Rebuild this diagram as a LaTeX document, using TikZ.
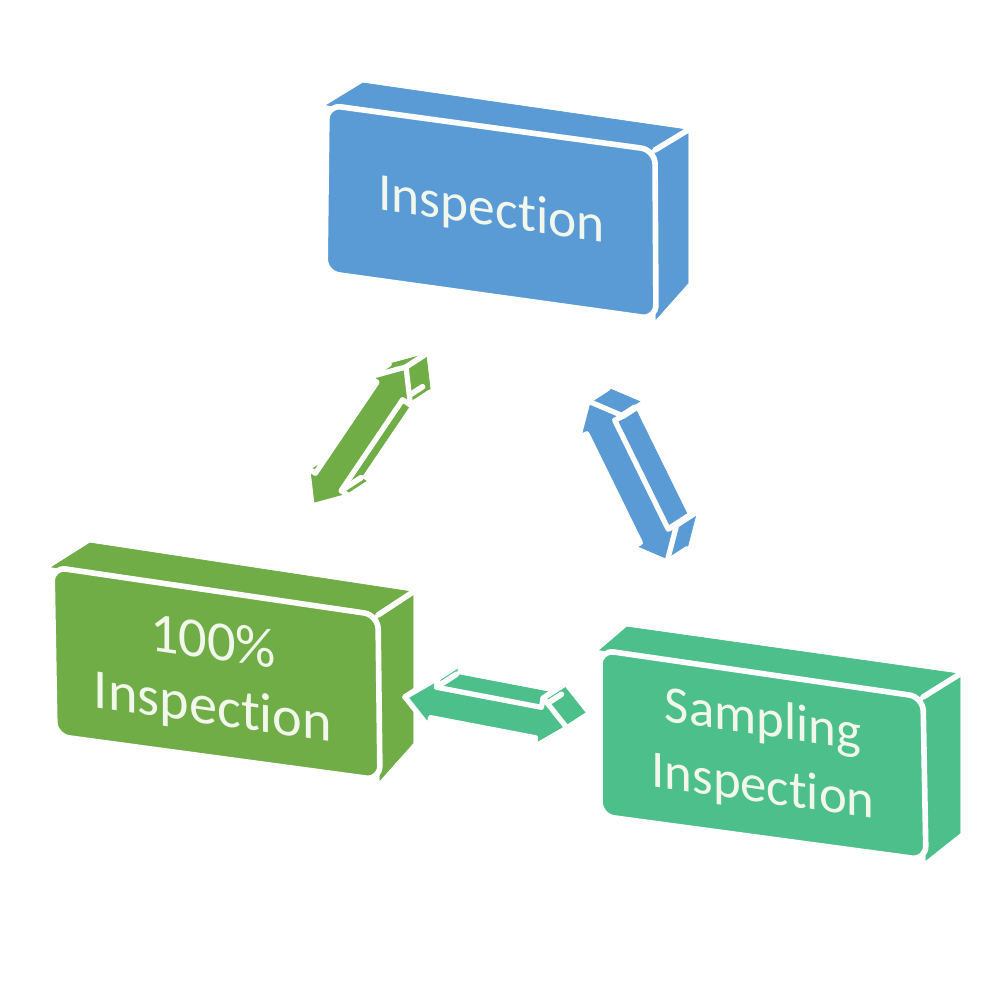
\documentclass[tikz,border=0pt]{standalone}
\usepackage{fontspec}
\setmainfont{Carlito}[Ligatures={NoCommon}]
\usetikzlibrary{calc}
\definecolor{cblue}{HTML}{5B9BD5}
\definecolor{cgreen}{HTML}{70AD47}
\definecolor{cteal}{HTML}{4CBF8A}
\definecolor{ctext}{HTML}{F2F7EC}
\tikzset{
  gapline/.style={white, line width=1.6pt, line cap=round},
  frontface/.style={fill=#1, draw=white, line width=1.6pt, rounded corners=4pt},
  sideface/.style={fill=#1, draw=#1, line width=0.2pt},
  arrowfront/.style={fill=#1, draw=white, line width=1.5pt, line join=round},
  lbl/.style={text=ctext, align=center, yslant=-0.145, inner sep=0pt},
}
% #1 tip one, #2 tip two, #3 colour
\newcommand\threedarrow[3]{%
  \coordinate (b1) at ($(#1)!0.29cm!(#2)$);
  \coordinate (b2) at ($(#2)!0.29cm!(#1)$);
  \coordinate (v1) at (#1);
  \coordinate (v2) at ($(b1)!0.25cm!90:(#2)$);
  \coordinate (v3) at ($(b1)!0.155cm!90:(#2)$);
  \coordinate (v4) at ($(b2)!0.155cm!-90:(#1)$);
  \coordinate (v5) at ($(b2)!0.25cm!-90:(#1)$);
  \coordinate (v6) at (#2);
  \coordinate (v7) at ($(b2)!0.25cm!90:(#1)$);
  \coordinate (v8) at ($(b2)!0.155cm!90:(#1)$);
  \coordinate (v9) at ($(b1)!0.155cm!-90:(#2)$);
  \coordinate (v10) at ($(b1)!0.25cm!-90:(#2)$);
  \foreach \i in {1,...,10} {\coordinate (w\i) at ($(v\i)+(20,-13)$);}
  \foreach \i/\j in {1/2,2/3,3/4,4/5,5/6,6/7,7/8,8/9,9/10,10/1}
    {\fill[sideface=#3] (v\i) -- (v\j) -- (w\j) -- (w\i) -- cycle;}
  \foreach \i in {1,...,10} {\draw[gapline] (v\i) -- (w\i);}
  \filldraw[arrowfront=#3] (v1) -- (v2) -- (v3) -- (v4) -- (v5) -- (v6)
     -- (v7) -- (v8) -- (v9) -- (v10) -- cycle;
}
% #1 prefix, #2 colour
\newcommand\threedbox[2]{%
  \fill[sideface=#2] (#1TL) -- (#1TLb) -- (#1TRb) -- (#1TR) -- cycle;
  \fill[sideface=#2] (#1TR) -- (#1TRb) -- (#1BRb) -- (#1BR) -- cycle;
  \draw[gapline] (#1TR) -- (#1TRb);
  \filldraw[frontface=#2] (#1TL) -- (#1TR) -- (#1BR) -- (#1BL) -- cycle;
  \coordinate (#1C) at ($(#1TL)!0.5!(#1BR)$);
}
\begin{document}
\begin{tikzpicture}[x=0.01cm,y=-0.01cm]
\useasboundingbox (0,0) rectangle (1000,1000);
\fill[white] (0,0) rectangle (1000,1000);

% top box: Inspection
\coordinate (aTL) at (327,105);
\coordinate (aTR) at (655,150);
\coordinate (aBR) at (656,319);
\coordinate (aBL) at (325,273);
\coordinate (aTLb) at (363,83);
\coordinate (aTRb) at (688,130);
\coordinate (aBRb) at (688,283);
\threedbox{a}{cblue}
\node[lbl, font=\fontsize{15.2}{18.5}\selectfont] (ta) at (aC) {Inspection};

% left box: 100% Inspection
\coordinate (bTL) at (52,567);
\coordinate (bTR) at (378,615);
\coordinate (bBR) at (380,780);
\coordinate (bBL) at (55,736);
\coordinate (bTLb) at (90,543);
\coordinate (bTRb) at (413,592);
\coordinate (bBRb) at (413,743);
\threedbox{b}{cgreen}
\node[lbl, font=\fontsize{16}{18.5}\selectfont] (tb) at ($(bC)+(-3,4)$) {100\%\\Inspection};

% right box: Sampling Inspection
\coordinate (cTL) at (600,650);
\coordinate (cTR) at (923,697);
\coordinate (cBR) at (926,860);
\coordinate (cBL) at (600,816);
\coordinate (cTLb) at (627,627);
\coordinate (cTRb) at (960,674);
\coordinate (cBRb) at (960,833);
\threedbox{c}{cteal}
\node[lbl, font=\fontsize{15}{19}\selectfont] (tc) at (cC) {Sampling\\Inspection};

% arrows
\coordinate (g1) at (406,367);
\coordinate (g2) at (312,506);
\threedarrow{g1}{g2}{cgreen}

\coordinate (u1) at (588,401);
\coordinate (u2) at (667,562);
\threedarrow{u1}{u2}{cblue}

\coordinate (s1) at (405,697);
\coordinate (s2) at (567,728);
\threedarrow{s1}{s2}{cteal}
\end{tikzpicture}
\end{document}
